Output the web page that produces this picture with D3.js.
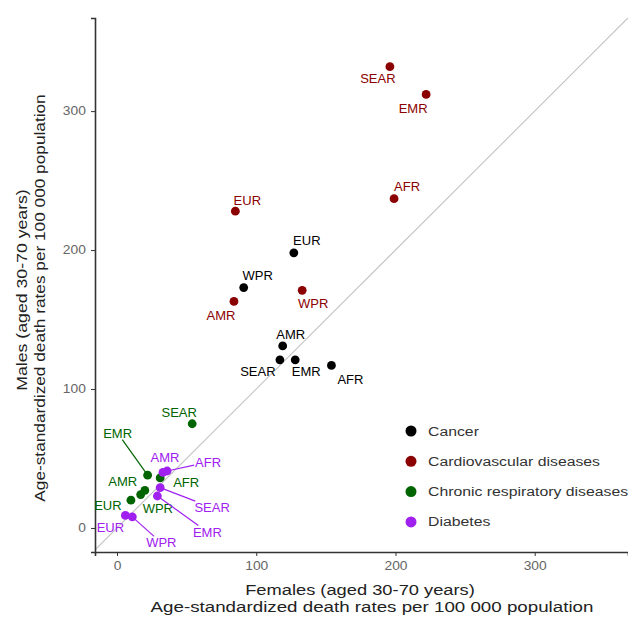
<!DOCTYPE html>
<html><head><meta charset="utf-8">
<script src="https://cdn.jsdelivr.net/npm/d3@7/dist/d3.min.js"></script>
<style>body{margin:0;background:#fff}svg{display:block}text{font-family:"Liberation Sans",Arial,sans-serif}</style>
</head><body><svg id="c" width="628" height="621"></svg>
<script>
const regions = ["AFR","AMR","EMR","EUR","SEAR","WPR"];
const groups = ["Cancer","Cardiovascular diseases","Chronic respiratory diseases","Diabetes"];
const cancerF = [154,119,128,127,117,91];
const cancerM = [117,131,121,198,121,173];
const cvdF = [199,84,222,85,196,133];
const cvdM = [237,163,312,228,332,171];
const respF = [31,17,22,10,54,20];
const respM = [36,24,38,20,75,27];
const diabF = [36,33,29,6,31,11];
const diabM = [41,40,23,9,29,8];
const xTicks = [0,100,200,300];
const yTicks = [0,100,200,300];

const colors = ["#000000","#8b0000","#006400","#a020f0"];
// label offsets (layout, px) per group per region
const labelOff = [
  [[19,14],[8,-11],[11,12],[13,-12],[-22,12],[14,-12]],
  [[13,-12],[-13,14],[-13,14],[12,-11],[-12,12],[11,13]],
  [[26,5],[-18,-13],[-30,-42],[-23,5],[-13,-11],[13,18]],
  [[41,-9],[2,-15],[50,36],[-15,12],[52,20],[29,26]]
];
const series = [[cancerF,cancerM],[cvdF,cvdM],[respF,respM],[diabF,diabM]];

const svg = d3.select("#c");
const L=95, R=628, T=18, B=552;
const x = d3.scaleLinear().domain([-15.8,367]).range([L,R]);
const y = d3.scaleLinear().domain([-17.3,367]).range([B,T]);

function stext(g, X, Y, str, size, sx, rot, anchor){
  return g.append("text").attr("x",0).attr("y",0)
    .attr("transform",`translate(${X},${Y})${rot?` rotate(${rot})`:""} scale(${sx},1)`)
    .attr("text-anchor",anchor||"middle").attr("font-size",size).attr("fill","#222").text(str);
}

// diagonal y=x
svg.append("line").attr("x1",x(-15.8)).attr("y1",y(-15.8)).attr("x2",x(367)).attr("y2",y(367))
  .attr("stroke","#c4c4c4").attr("stroke-width",1.2);

// axes
const xa = svg.append("g").attr("transform",`translate(0,${B})`)
  .call(d3.axisBottom(x).tickValues(xTicks).tickSize(4).tickPadding(5));
const ya = svg.append("g").attr("transform",`translate(${L},0)`)
  .call(d3.axisLeft(y).tickValues(yTicks).tickSize(4).tickPadding(4));
[xa,ya].forEach(a=>{
  a.select(".domain").attr("stroke","#333").attr("stroke-width",1.6);
  a.selectAll(".tick line").attr("stroke","#333");
  a.selectAll(".tick text").attr("fill","#666").attr("font-size",12)
   .style("font-family","'Liberation Sans',Arial,sans-serif");
});
xa.selectAll(".tick text").attr("transform","scale(1.15,1)");
ya.selectAll(".tick text").attr("transform","scale(1.15,1)");

const pts=[];
series.forEach((s,g)=>{
  regions.forEach((r,i)=>{
    pts.push({g, r, fx:s[0][i], my:s[1][i], dx:labelOff[g][i][0], dy:labelOff[g][i][1]});
  });
});

const lbl = svg.append("g");
const segs = svg.append("g");
pts.forEach(p=>{
  const px=x(p.fx), py=y(p.my);
  const t = lbl.append("text").attr("x",px+p.dx).attr("y",py+p.dy).attr("dy","0.35em")
    .attr("text-anchor","middle").attr("font-size",13).attr("fill",colors[p.g]).text(p.r);
  const dist=Math.hypot(p.dx,p.dy);
  if(dist>28){
    const bb=t.node().getBBox();
    const cx=px+p.dx, cy=py+p.dy;
    const hw=bb.width/2+1, hh=bb.height/2-1;
    const vx=px-cx, vy=py-cy;
    const s=Math.min(Math.abs(hw/vx)||1e9, Math.abs(hh/vy)||1e9);
    segs.append("line").attr("x1",px).attr("y1",py).attr("x2",cx+vx*s).attr("y2",cy+vy*s)
      .attr("stroke",colors[p.g]).attr("stroke-width",1.2);
  }
});
svg.append("g").selectAll("circle").data(pts).join("circle")
  .attr("cx",d=>x(d.fx)).attr("cy",d=>y(d.my)).attr("r",4.4).attr("fill",d=>colors[d.g]);

// legend
const lg = svg.append("g");
groups.forEach((gname,i)=>{
  lg.append("circle").attr("cx",411).attr("cy",431+i*30.3).attr("r",5.5).attr("fill",colors[i]);
  stext(lg,428,431+i*30.3+4.5,gname,13.5,1.17,0,"start").attr("fill","#333");
});

// axis titles
stext(svg,360,595,"Females (aged 30-70 years)",15,1.22);
stext(svg,372,612,"Age-standardized death rates per 100 000 population",15,1.25);
stext(svg,27,290,"Males (aged 30-70 years)",15,1.18,-90);
stext(svg,45,298,"Age-standardized death rates per 100 000 population",15,1.15,-90);
</script></body></html>
